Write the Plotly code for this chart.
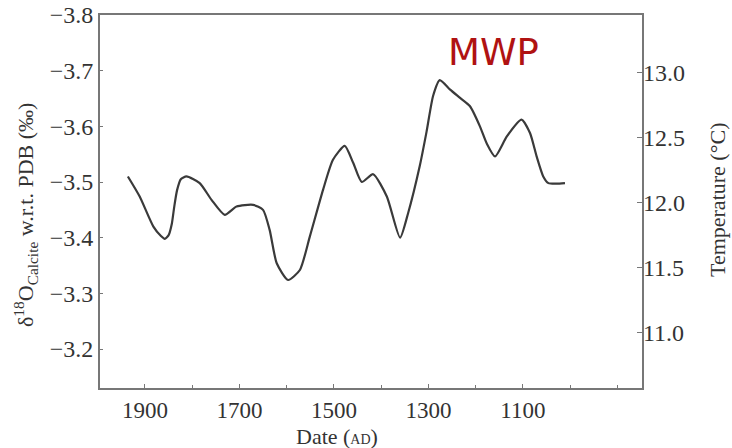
import plotly.graph_objects as go

years = [1936, 1911, 1882, 1866, 1858, 1850, 1843, 1838, 1832, 1824, 1812, 1784, 1759, 1731,
         1706, 1671, 1650, 1636, 1621, 1597, 1572, 1551, 1523, 1502, 1477, 1459, 1441, 1417,
         1388, 1360, 1343, 1318, 1304, 1290, 1276, 1254, 1233, 1212, 1191, 1177, 1159, 1134,
         1103, 1085, 1071, 1057, 1046, 1029, 1011]
d18o = [-3.51, -3.474, -3.42, -3.403, -3.398, -3.404, -3.425, -3.455, -3.485, -3.505, -3.51,
        -3.498, -3.468, -3.441, -3.456, -3.459, -3.45, -3.414, -3.354, -3.324, -3.342, -3.402,
        -3.486, -3.54, -3.565, -3.534, -3.50, -3.514, -3.474, -3.40, -3.444, -3.53, -3.59,
        -3.655, -3.683, -3.666, -3.651, -3.636, -3.60, -3.57, -3.546, -3.582, -3.612, -3.588,
        -3.546, -3.51, -3.498, -3.497, -3.498]

x_ticks = [1900, 1700, 1500, 1300, 1100]
y_ticks = [-3.8, -3.7, -3.6, -3.5, -3.4, -3.3, -3.2]
t_ticks = [11.0, 11.5, 12.0, 12.5, 13.0]

serif = "Liberation Serif, Times New Roman, serif"
axcol = "#777777"

fig = go.Figure()
fig.add_trace(go.Scatter(x=years, y=d18o, mode="lines",
                         line=dict(color="#3a3a3a", width=2.2, shape="spline", smoothing=0.6),
                         showlegend=False, hoverinfo="skip"))
# invisible trace for the right axis
fig.add_trace(go.Scatter(x=[years[0]], y=[12.0], yaxis="y2", mode="markers",
                         marker=dict(opacity=0), showlegend=False, hoverinfo="skip"))

fig.update_layout(
    width=732, height=448,
    margin=dict(l=100, r=90, t=15, b=60, autoexpand=False),
    paper_bgcolor="white", plot_bgcolor="white",
    font=dict(family=serif, size=22, color="#333333"),
    xaxis=dict(range=[1995, 848], tickmode="array", tickvals=x_ticks,
               ticktext=[str(v) for v in x_ticks],
               ticks="inside", ticklen=4, tickcolor=axcol,
               minor=dict(dtick=100, tick0=1000, ticks="inside", ticklen=3, tickcolor=axcol),
               showline=True, linecolor=axcol, linewidth=2, mirror=True,
               showgrid=False, zeroline=False,
               tickfont=dict(family=serif, size=23, color="#333333")),
    yaxis=dict(range=[-3.13, -3.8], tickmode="array", tickvals=y_ticks,
               ticktext=["\u22123.8", "\u22123.7", "\u22123.6", "\u22123.5", "\u22123.4",
                         "\u22123.3", "\u22123.2"],
               ticks="inside", ticklen=3, tickcolor=axcol,
               showline=True, linecolor=axcol, linewidth=2, mirror=True,
               showgrid=False, zeroline=False,
               tickfont=dict(family=serif, size=24, color="#333333")),
    yaxis2=dict(range=[10.57, 13.44], overlaying="y", side="right", anchor="x",
                tickmode="array", tickvals=t_ticks,
                ticktext=["11.0", "11.5", "12.0", "12.5", "13.0"],
                ticks="inside", ticklen=5, tickcolor=axcol, ticklabelstandoff=0,
                showline=False, showgrid=False, zeroline=False,
                tickfont=dict(family=serif, size=24, color="#333333")),
    annotations=[
        dict(text="MWP", x=493, y=53, showarrow=False,
             font=dict(family="DejaVu Sans, Verdana, sans-serif", size=37, color="#b01212")),
        dict(text="Date (<span style='font-size:14px'>AD</span>)", x=337, y=436,
             showarrow=False, font=dict(family=serif, size=22, color="#333333")),
        dict(text="\u03b4<sup>18</sup>O<sub>Calcite</sub> w.r.t. PDB (\u2030)", x=25, y=215,
             textangle=-90, showarrow=False,
             font=dict(family=serif, size=22, color="#333333")),
        dict(text="Temperature (\u00b0C)", x=717, y=200, textangle=-90, showarrow=False,
             font=dict(family=serif, size=22, color="#333333")),
    ],
)

# convert pixel-positioned annotations to paper coordinates
pw, ph = 732 - 100 - 90, 448 - 15 - 60
for a in fig.layout.annotations:
    a.x = (a.x - 100) / pw
    a.y = (448 - 60 - a.y) / ph
    a.xref = "paper"
    a.yref = "paper"
    a.xanchor = "center"
    a.yanchor = "middle"

fig.write_html("out.html", config={"displayModeBar": False},
               post_script="document.body.style.margin='0';document.body.style.overflow='hidden';")
